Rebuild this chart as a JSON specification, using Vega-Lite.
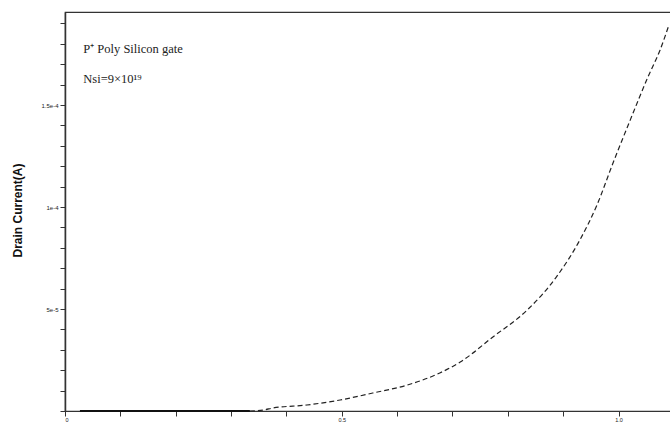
{
  "$schema": "https://vega.github.io/schema/vega-lite/v6.json",
  "width": 620,
  "height": 399,
  "autosize": {"type": "none"},
  "padding": {"left": 65, "top": 12, "right": 0, "bottom": 14},
  "background": "white",
  "config": {
    "view": {"stroke": "#333333", "strokeWidth": 1.2},
    "axis": {"grid": false, "domainColor": "#333333", "tickColor": "#333333", "labelColor": "#222222", "labelFont": "Liberation Sans", "titleFont": "Liberation Sans"}
  },
  "datasets": {
    "curve": [
      {"vg": 0.027, "id": 0.0, "seg": "flat"},
      {"vg": 0.1, "id": 0.0, "seg": "flat"},
      {"vg": 0.2, "id": 0.0, "seg": "flat"},
      {"vg": 0.334, "id": 0.0, "seg": "flat"},
      {"vg": 0.334, "id": 0.0, "seg": "rise"},
      {"vg": 0.358, "id": 4.9e-7, "seg": "rise"},
      {"vg": 0.376, "id": 1.47e-6, "seg": "rise"},
      {"vg": 0.437, "id": 2.94e-6, "seg": "rise"},
      {"vg": 0.497, "id": 5.39e-6, "seg": "rise"},
      {"vg": 0.556, "id": 8.82e-6, "seg": "rise"},
      {"vg": 0.618, "id": 1.27e-5, "seg": "rise"},
      {"vg": 0.677, "id": 1.863e-5, "seg": "rise"},
      {"vg": 0.714, "id": 2.4e-5, "seg": "rise"},
      {"vg": 0.773, "id": 3.63e-5, "seg": "rise"},
      {"vg": 0.835, "id": 4.95e-5, "seg": "rise"},
      {"vg": 0.889, "id": 6.62e-5, "seg": "rise"},
      {"vg": 0.93, "id": 8.38e-5, "seg": "rise"},
      {"vg": 0.961, "id": 1.01e-4, "seg": "rise"},
      {"vg": 0.99, "id": 1.216e-4, "seg": "rise"},
      {"vg": 1.021, "id": 1.426e-4, "seg": "rise"},
      {"vg": 1.053, "id": 1.637e-4, "seg": "rise"},
      {"vg": 1.075, "id": 1.77e-4, "seg": "rise"},
      {"vg": 1.091, "id": 1.892e-4, "seg": "rise"}
    ],
    "notes": [
      {"vg": 0.033, "id": 1.775e-4, "label": "P⁺ Poly Silicon gate"},
      {"vg": 0.033, "id": 1.63e-4, "label": "Nsi=9×10¹⁹"}
    ]
  },
  "encoding": {
    "x": {
      "field": "vg", "type": "quantitative",
      "scale": {"domain": [0, 1.12], "nice": false, "zero": false},
      "axis": {
        "title": null,
        "values": [0, 0.1, 0.2, 0.3, 0.4, 0.5, 0.6, 0.7, 0.8, 0.9, 1.0, 1.1],
        "labelExpr": "datum.value == 0 ? '0' : (abs(datum.value - 0.5) < 1e-6 ? '0.5' : (abs(datum.value - 1.0) < 1e-6 ? '1.0' : ''))",
        "labelFontSize": 5.5,
        "labelPadding": 1,
        "tickSize": 5,
        "tickWidth": 1,
        "domainWidth": 1.2
      }
    },
    "y": {
      "field": "id", "type": "quantitative",
      "scale": {"domain": [0, 1.956e-4], "nice": false, "zero": true},
      "axis": {
        "title": "Drain Current(A)",
        "titleFontSize": 12,
        "titleFontWeight": "bold",
        "titleColor": "#111111",
        "titleX": -48,
        "titleY": 198,
        "titleBaseline": "middle",
        "values": [0, 1e-5, 2e-5, 3e-5, 4e-5, 5e-5, 6e-5, 7e-5, 8e-5, 9e-5, 1e-4, 1.1e-4, 1.2e-4, 1.3e-4, 1.4e-4, 1.5e-4, 1.6e-4, 1.7e-4, 1.8e-4, 1.9e-4],
        "labelExpr": "abs(datum.value - 5e-5) < 1e-9 ? '5e-5' : (abs(datum.value - 1e-4) < 1e-9 ? '1e-4' : (abs(datum.value - 1.5e-4) < 1e-9 ? '1.5e-4' : ''))",
        "labelFontSize": 6,
        "labelPadding": 2,
        "tickSize": 5,
        "tickWidth": 1,
        "domainWidth": 1.5
      }
    }
  },
  "layer": [
    {
      "data": {"name": "curve"},
      "transform": [{"filter": "datum.seg == 'flat'"}],
      "mark": {"type": "line", "color": "#111111", "strokeWidth": 2.2},
      "encoding": {"order": {"field": "vg", "type": "quantitative"}}
    },
    {
      "data": {"name": "curve"},
      "transform": [{"filter": "datum.seg == 'rise'"}],
      "mark": {"type": "line", "color": "#222222", "strokeWidth": 1.2, "strokeDash": [5, 3], "interpolate": "monotone"},
      "encoding": {"order": {"field": "vg", "type": "quantitative"}}
    },
    {
      "data": {"name": "notes"},
      "mark": {"type": "text", "align": "left", "baseline": "middle", "font": "Liberation Serif", "fontSize": 12.5, "color": "#222222"},
      "encoding": {"text": {"field": "label"}}
    }
  ]
}
